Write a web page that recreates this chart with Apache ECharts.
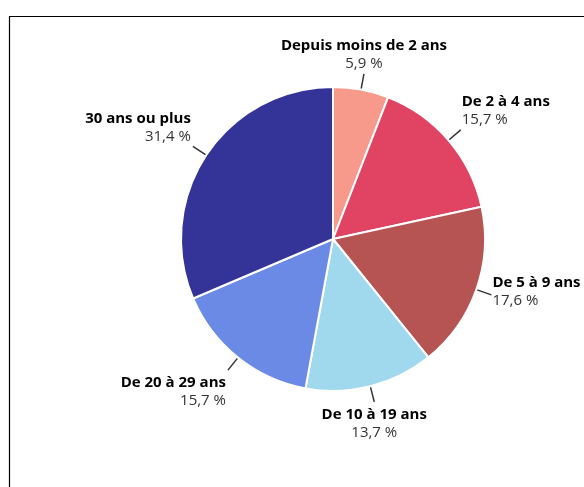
<!DOCTYPE html>
<html>
<head>
<meta charset="utf-8">
<style>
  html, body { margin: 0; padding: 0; background: #fff; }
  #chart { width: 584px; height: 487px; }
</style>
<script src="https://cdn.jsdelivr.net/npm/echarts@6/dist/echarts.min.js"></script>
</head>
<body>
<div id="chart"></div>
<script>
  // données
  const categories = ['Depuis moins de 2 ans', 'De 2 à 4 ans', 'De 5 à 9 ans', 'De 10 à 19 ans', 'De 20 à 29 ans', '30 ans ou plus']
  const shares = [5.9, 15.7, 17.6, 13.7, 15.7, 31.4]
  const colors = ['#F7998B', '#E14463', '#B55453', '#A0D9EE', '#6A8AE6', '#343397']

  const chart = echarts.init(document.getElementById('chart'))
  const center = [333, 239]

  chart.setOption({
    animation: false,
    graphic: [{
      type: 'rect',
      left: 7,
      top: 14,
      shape: { width: 600, height: 500 },
      style: { fill: 'none', stroke: '#000', lineWidth: 1.2 }
    }],
    series: [{
      type: 'pie',
      center: center,
      radius: 152,
      startAngle: 90,
      clockwise: true,
      avoidLabelOverlap: false,
      itemStyle: { borderColor: '#fff', borderWidth: 2 },
      label: {
        show: true,
        position: 'outside',
        fontFamily: 'Open Sans',
        formatter: function(p) {
          return '{name|' + p.name + '}\n{val|' + String(p.value).replace('.', ',') + ' %}'
        },
        rich: {
          name: { fontFamily: 'Open Sans', fontWeight: 'bold', fontSize: 15, color: '#000', lineHeight: 18 },
          val: { fontFamily: 'Open Sans', fontSize: 15, color: '#333', lineHeight: 18 }
        }
      },
      labelLine: {
        show: true,
        length: 16,
        length2: 0,
        lineStyle: { color: '#333', width: 1.5 }
      },
      labelLayout: function(params) {
        const pts = params.labelLinePoints
        if (!pts) return {}
        // ancrage de l'étiquette selon la position autour du camembert
        const end = pts[pts.length - 1]
        const dx = end[0] - center[0]
        const dy = end[1] - center[1]
        const len = Math.sqrt(dx * dx + dy * dy)
        const s = dx / len
        const c = -dy / len
        let align = Math.abs(s) < 0.3 ? 'center' : (s > 0 ? 'left' : 'right')
        let verticalAlign = c > 0.5 ? 'bottom' : (c < -0.5 ? 'top' : 'middle')
        let x = end[0] + (align === 'left' ? 1 : align === 'right' ? -2 : 0)
        let y = end[1] + (verticalAlign === 'bottom' ? -1 : verticalAlign === 'top' ? 4 : -3)
        return { x: x, y: y, align: align, verticalAlign: verticalAlign, labelLinePoints: pts }
      },
      data: categories.map((name, i) => ({
        name: name,
        value: shares[i],
        itemStyle: { color: colors[i] }
      }))
    }]
  })
</script>
</body>
</html>
